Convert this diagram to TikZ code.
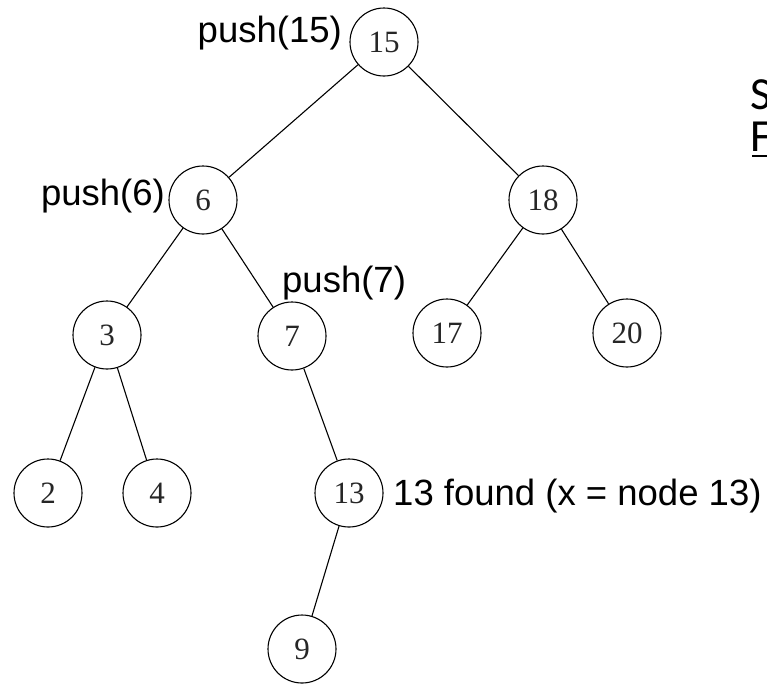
\documentclass[tikz,border=0pt]{standalone}
\usepackage{fontspec}
\setmainfont{Liberation Serif}
\newfontfamily\labfont{Liberation Sans}
\newfontfamily\sidefont{Carlito}
\begin{document}
\begin{tikzpicture}[x=1pt,y=-1pt,
  tnode/.style={circle,draw,line width=1.1pt,minimum size=68pt,inner sep=0pt,
    font=\fontsize{31}{32}\selectfont,text=black!85},
  edge/.style={line width=1.1pt},
  lab/.style={inner sep=0pt,font=\labfont\fontsize{36.5}{40}\selectfont}]
\useasboundingbox (0,0) rectangle (767,686);
\fill[white] (0,0) rectangle (767,686);
\node[tnode] (n15) at (384,42) {15};
\node[tnode] (n6) at (203,200) {6};
\node[tnode] (n18) at (543,200) {18};
\node[tnode] (n3) at (107,335) {3};
\node[tnode] (n7) at (292,336) {7};
\node[tnode] (n17) at (447,333) {17};
\node[tnode] (n20) at (627,333) {20};
\node[tnode] (n2) at (48,493) {2};
\node[tnode] (n4) at (157,493) {4};
\node[tnode] (n13) at (349,493) {13};
\node[tnode] (n9) at (302,649) {9};
\draw[edge] (n15) -- (n6);
\draw[edge] (n15) -- (n18);
\draw[edge] (n6) -- (n3);
\draw[edge] (n6) -- (n7);
\draw[edge] (n3) -- (n2);
\draw[edge] (n3) -- (n4);
\draw[edge] (n7) -- (n13);
\draw[edge] (n13) -- (n9);
\draw[edge] (n18) -- (n17);
\draw[edge] (n18) -- (n20);
\node[lab,anchor=base east] (l15) at (342,42) {push(15)};
\node[lab,anchor=base east] (l6) at (165,205) {push(6)};
\node[lab,anchor=base west] (l7) at (282,292) {push(7)};
\node[lab,anchor=base west] (l13) at (393,505) {13 found (x = node 13)};
\begin{scope}
\clip (0,0) rectangle (767,686);
\node[inner sep=0pt,anchor=base west,font=\sidefont\fontsize{46}{50}\selectfont] (ts) at (750,109) {S};
\node[inner sep=0pt,anchor=base west,font=\sidefont\fontsize{46}{50}\selectfont] (tf) at (750,151) {F};
\draw[line width=1.5pt] (752,156) -- (767,156);
\end{scope}
\end{tikzpicture}
\end{document}
